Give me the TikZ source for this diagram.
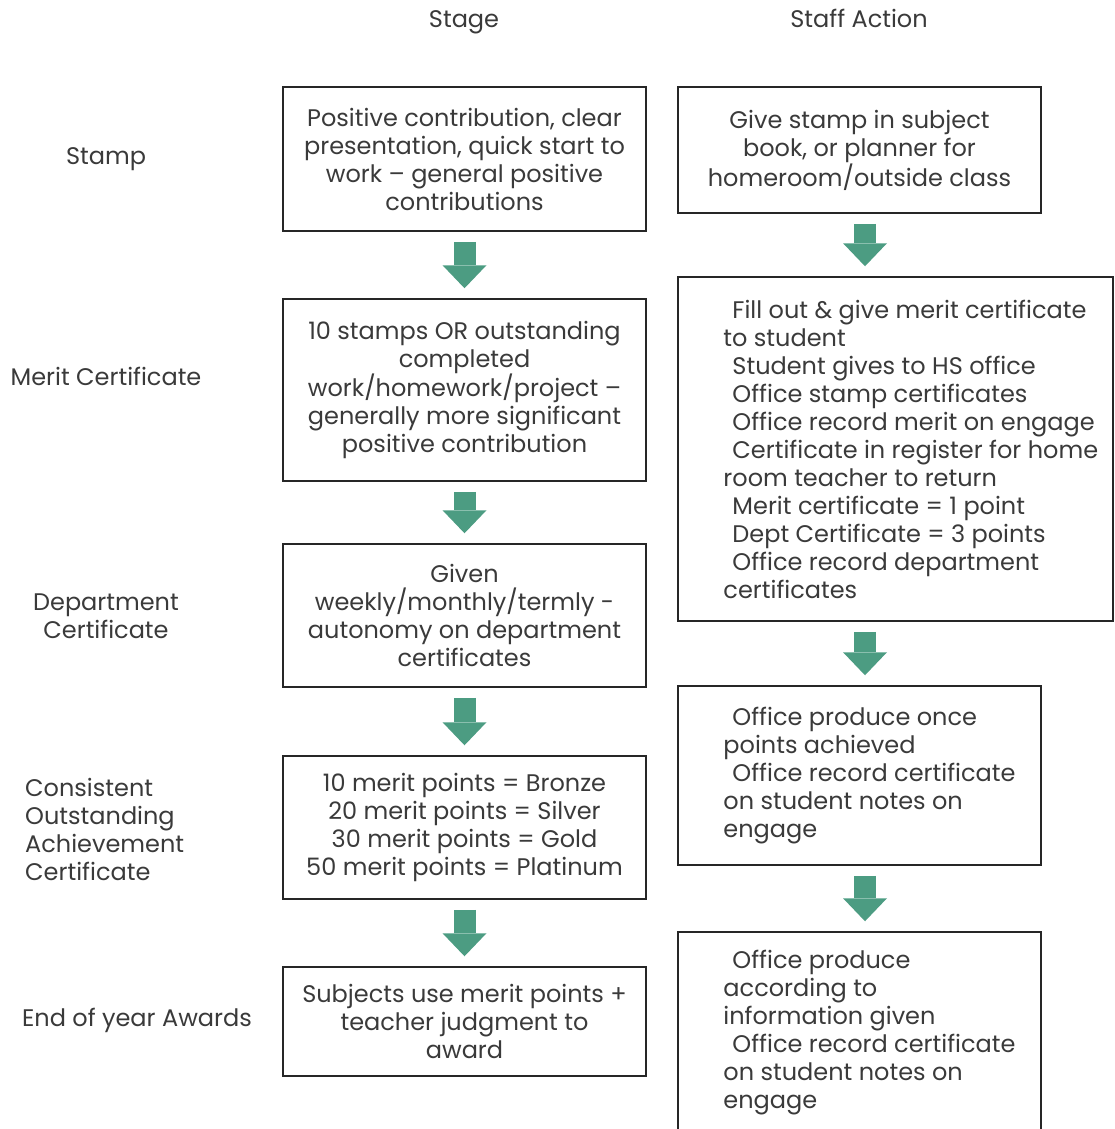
\documentclass[tikz,border=0pt]{standalone}
\usepackage{fontspec}
\setmainfont{Poppins}
\usetikzlibrary{arrows.meta}
\definecolor{flowgreen}{RGB}{76,156,130}
\definecolor{inkgrey}{RGB}{58,58,58}

\begin{document}
\begin{tikzpicture}[x=1pt,y=-1pt]
\tikzstyle{every node}+=[inner sep=0pt, text=inkgrey, font=\fontsize{24}{28}\selectfont]
\tikzstyle{stagebox}=[draw=black!85, line width=1.5pt, align=center, minimum width=363pt]
\tikzstyle{actbox}=[draw=black!85, line width=1.5pt, minimum width=363pt]
\tikzstyle{acttext}=[anchor=west, align=left]
\tikzstyle{flow}=[flowgreen, line width=22pt, shorten <=10pt, shorten >=10pt,
  -{Triangle[width=44pt, length=23pt, line width=0pt]}]
\useasboundingbox (0,0) rectangle (1114,1129);
\clip (0,0) rectangle (1114,1129);

% headers
\node[anchor=base] (hstage) at (464,28) {Stage};
\node[anchor=base] (hstaff) at (859,28) {Staff Action};

% stage names
\node[anchor=base] (lstamp) at (106,164) {Stamp};
\node[anchor=base] (lmerit) at (106,385) {Merit Certificate};
\node[align=center] (ldept) at (106,616) {Department\\Certificate};
\node[anchor=west, align=left] (lcons) at (25,829) {Consistent\\Outstanding\\Achievement\\Certificate};
\node[anchor=base] (lend) at (137,1026) {End of year Awards};

% stage boxes
\node[stagebox, minimum height=144pt] (b1) at (464.5,159)
  {Positive contribution, clear\\presentation, quick start to\\work -- general positive\\contributions};
\node[stagebox, minimum height=182pt] (b2) at (464.5,390)
  {10 stamps OR outstanding\\completed\\work/homework/project --\\generally more significant\\positive contribution};
\node[stagebox, minimum height=143pt] (b3) at (464.5,615.5)
  {Given\\weekly/monthly/termly -\\autonomy on department\\certificates};
\node[stagebox, minimum height=143pt] (b4) at (464.5,827.5)
  {10 merit points = Bronze\\20 merit points = Silver\\30 merit points = Gold\\50 merit points = Platinum};
\node[stagebox, minimum height=109pt] (b5) at (464.5,1021.5)
  {Subjects use merit points +\\teacher judgment to\\award};

% staff action boxes
\node[actbox, align=center, minimum height=126pt] (r1) at (859.5,150)
  {Give stamp in subject\\book, or planner for\\homeroom/outside class};
\node[actbox, minimum width=435pt, minimum height=344pt] (r2) at (895.5,449) {};
\node[acttext] (r2t) at ([xshift=46pt]r2.west)
  {\hspace*{9pt}Fill out \& give merit certificate\\to student\\
   \hspace*{9pt}Student gives to HS office\\
   \hspace*{9pt}Office stamp certificates\\
   \hspace*{9pt}Office record merit on engage\\
   \hspace*{9pt}Certificate in register for home\\room teacher to return\\
   \hspace*{9pt}Merit certificate = 1 point\\
   \hspace*{9pt}Dept Certificate = 3 points\\
   \hspace*{9pt}Office record department\\certificates};
\node[actbox, minimum height=179pt] (r3) at (859.5,775.5) {};
\node[acttext] (r3t) at ([xshift=46pt]r3.west)
  {\hspace*{9pt}Office produce once\\points achieved\\
   \hspace*{9pt}Office record certificate\\on student notes on\\engage};
\node[actbox, minimum height=202pt] (r4) at (859.5,1033) {};
\node[acttext] (r4t) at ([xshift=46pt]r4.west)
  {\hspace*{9pt}Office produce\\according to\\information given\\
   \hspace*{9pt}Office record certificate\\on student notes on\\engage};

% arrows
\foreach \a/\b in {b1/b2,b2/b3,b3/b4,b4/b5}
  \draw[flow] (\a) -- (\b);
\coordinate (ax) at (865,0);
\foreach \a/\b in {r1/r2,r2/r3,r3/r4}
  \draw[flow] (\a.south -| ax) -- (\b.north -| ax);
\end{tikzpicture}
\end{document}
